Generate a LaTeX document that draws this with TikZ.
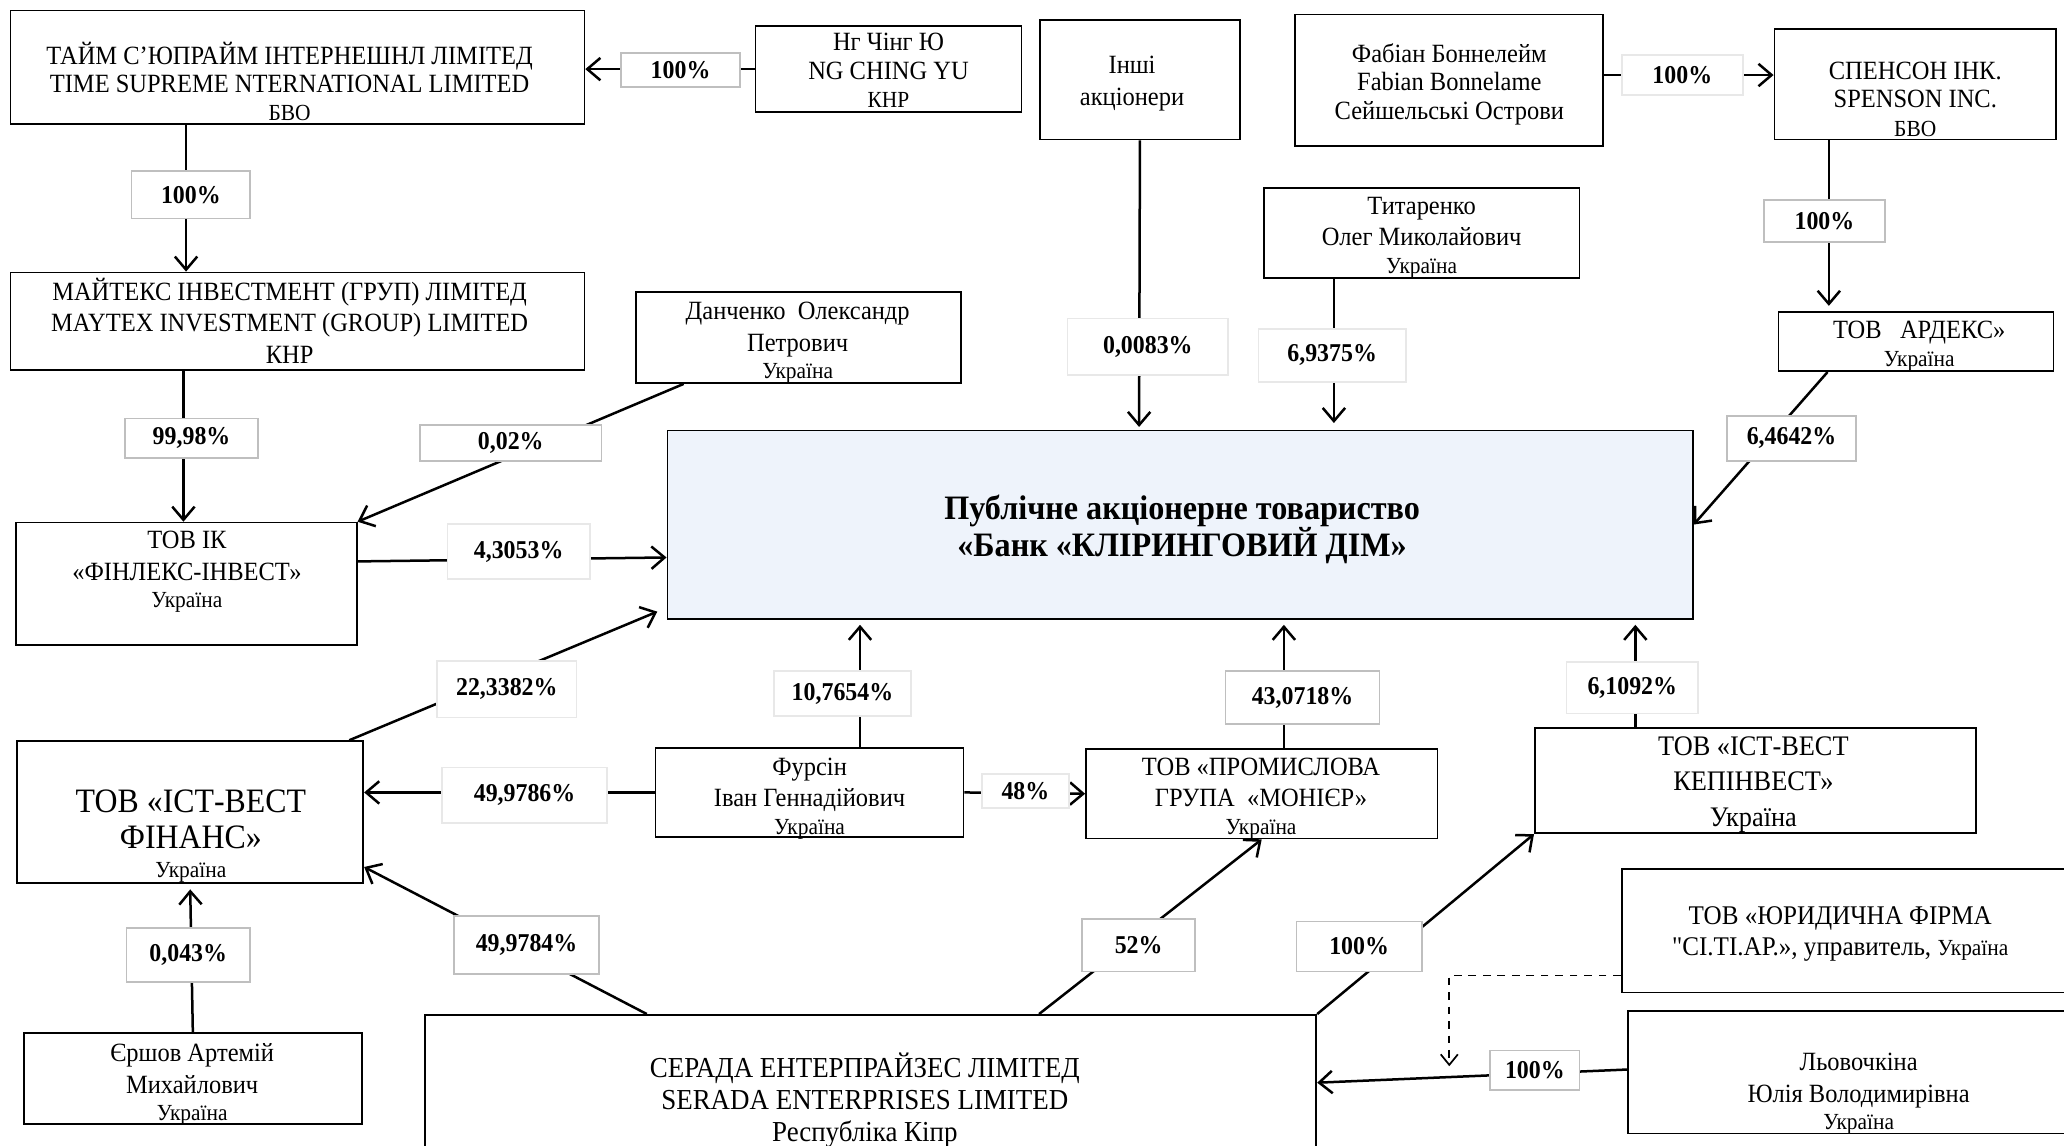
\documentclass[tikz,border=0pt]{standalone}
\usepackage{fontspec}
\setmainfont{Liberation Serif}[FakeStretch=0.93]
\newfontfamily\rawf{Liberation Serif}[FakeStretch=0.93]
\newfontfamily\bankfont{Liberation Serif}[FakeStretch=0.94]
\usetikzlibrary{arrows.meta,calc}
\definecolor{bankfill}{HTML}{EEF3FB}
\tikzset{
 ent/.style={draw=black, line width=1.3pt, inner sep=0pt, fill=white},
 txt/.style={align=center, inner sep=0pt, font=\fontsize{20}{24}\selectfont},
 txts/.style={align=center, inner sep=0pt, font=\fontsize{20}{21.5}\selectfont},
 pct/.style={draw=gray!50, fill=white, line width=1.3pt, inner sep=0pt, font=\bfseries\fontsize{19.5}{22}\selectfont},
 pctl/.style={pct, draw=gray!18},
 conn/.style={line width=1.9pt, -{Straight Barb[length=10pt,width=17pt,line width=1.9pt]}},
}
\newcommand{\sm}{\fontsize{17.5}{19}\selectfont}
\begin{document}
\begin{tikzpicture}[x=1pt,y=-1pt]
\useasboundingbox (0,0) rectangle (1568,870);
% ---------- boxes ----------
\node[ent, minimum width=436pt, minimum height=86pt] (tsi) at (226,51) {};
\node[ent, minimum width=202pt, minimum height=65pt] (ng) at (675,52.5) {};
\node[ent, minimum width=152pt, minimum height=91pt] (oth) at (866,60.5) {};
\node[ent, minimum width=234pt, minimum height=100pt] (fab) at (1101,61) {};
\node[ent, minimum width=214pt, minimum height=84pt] (spn) at (1455,64) {};
\node[ent, minimum width=436pt, minimum height=74pt] (may) at (226,244) {};
\node[ent, minimum width=247pt, minimum height=69pt] (dan) at (606.5,256.5) {};
\node[ent, minimum width=240pt, minimum height=68pt] (tit) at (1080,177) {};
\node[ent, minimum width=209pt, minimum height=45pt] (ard) at (1455.5,259.5) {};
\node[ent, fill=bankfill, minimum width=779pt, minimum height=143pt] (bank) at (896.5,398.5) {};
\node[ent, minimum width=259pt, minimum height=93pt] (fin) at (141.5,443.5) {};
\node[ent, minimum width=263pt, minimum height=108pt] (ewf) at (144.5,617) {};
\node[ent, minimum width=234pt, minimum height=68pt] (fur) at (615,602) {};
\node[ent, minimum width=267pt, minimum height=68pt] (mon) at (958.5,603) {};
\node[ent, minimum width=335pt, minimum height=80pt] (kep) at (1333.5,593) {};
\node[ent, minimum width=343pt, minimum height=94pt] (jur) at (1403.5,707) {};
\node[ent, minimum width=353pt, minimum height=93pt] (lev) at (1413.5,814.5) {};
\node[ent, minimum width=677pt, minimum height=129pt] (ser) at (661.5,835.5) {};
\node[ent, minimum width=257pt, minimum height=69pt] (ers) at (146.5,819.5) {};
% ---------- texts ----------
\node[txts] (tsiT) at (220,62) {ТАЙМ С’ЮПРАЙМ ІНТЕРНЕШНЛ ЛІМІТЕД\\TIME SUPREME NTERNATIONAL LIMITED\\{\sm БВО}};
\node[txts] (ngT) at (675,53.5) {Нг Чінг Ю\\NG CHING YU\\{\sm КНР}};
\node[txt] (othT) at (860,63.5) {Інші\\акціонери};
\node[txts] (fabT) at (1101,64) {Фабіан Боннелейм\\Fabian Bonnelame\\Сейшельські Острови};
\node[txts] (spnT) at (1455,75.5) {СПЕНСОН ІНК.\\SPENSON INC.\\{\sm БВО}};
\node[txt] (mayT) at (220,243.5) {МАЙТЕКС ІНВЕСТМЕНТ (ГРУП) ЛІМІТЕД\\MAYTEX INVESTMENT (GROUP) LIMITED\\КНР};
\node[txt] (danT) at (606,260.5) {Данченко\ \ Олександр\\Петрович\\[-3pt]{\sm Україна}};
\node[txt] (titT) at (1080,180.5) {Титаренко\\Олег Миколайович\\[-3pt]{\sm Україна}};
\node[txt] (ardT) at (1458,263) {ТОВ\ \ \ АРДЕКС»\\[-3pt]{\sm Україна}};
\node[txt, font=\bankfont\bfseries\fontsize{26}{28}\selectfont] (bankT) at (898,402.5) {Публічне акціонерне товариство\\«Банк «КЛІРИНГОВИЙ ДІМ»};
\node[txt] (finT) at (142,434.5) {ТОВ ІК\\«ФІНЛЕКС-ІНВЕСТ»\\[-3pt]{\sm Україна}};
\node[txt, font=\fontsize{26}{27}\selectfont] (ewfT) at (145,635) {ТОВ «ІСТ-ВЕСТ\\ФІНАНС»\\[-5pt]{\sm Україна}};
\node[txt] (furT) at (615,606.5) {Фурсін\\Іван Геннадійович\\[-3pt]{\sm Україна}};
\node[txt] (monT) at (958,606.5) {ТОВ «ПРОМИСЛОВА\\ГРУПА\ \ «МОНІЄР»\\[-3pt]{\sm Україна}};
\node[txt, font=\fontsize{21.5}{27}\selectfont] (kepT) at (1332,596) {ТОВ «ІСТ-ВЕСТ\\КЕПІНВЕСТ»\\Україна};
\node[txt, font=\fontsize{20.5}{24}\selectfont] (jurT) at (1398,709.5) {ТОВ «ЮРИДИЧНА ФІРМА\\{\rawf"}СІ.ТІ.АР.», управитель, {\sm Україна}};
\node[txt] (levT) at (1412,831) {Льовочкіна\\Юлія Володимирівна\\[-3pt]{\sm Україна}};
\node[txt, font=\fontsize{22}{24.5}\selectfont] (serT) at (657,836) {СЕРАДА ЕНТЕРПРАЙЗЕС ЛІМІТЕД\\SERADA ENTERPRISES LIMITED\\Республіка Кіпр};
\node[txt] (ersT) at (146,824) {Єршов Артемій\\Михайлович\\[-3pt]{\sm Україна}};
% ---------- connectors ----------
\coordinate (fabR) at ([yshift=4pt]fab.east);
\draw[conn] (ng.west) -- (ng.west -| tsi.east);
\draw[conn] (fabR) -- (fabR -| spn.west);
\draw[conn] ([xshift=134pt]tsi.south west) -- ([xshift=134pt]may.north west);
\draw[conn] ([xshift=132pt]may.south west) -- ([xshift=128pt]fin.north west);
\draw[conn] ([xshift=37pt]dan.south west) -- (fin.north east);
\draw[conn] (oth.south) -- ([xshift=359pt,yshift=2pt]bank.north west);
\draw[conn] ([xshift=54pt]tit.south west) -- ([xshift=507pt,yshift=5pt]bank.north west);
\draw[conn] ([xshift=42pt]spn.south west) -- ([xshift=39pt,yshift=4pt]ard.north west);
\draw[conn] ([xshift=38pt]ard.south west) -- (bank.east);
\draw[conn] ([yshift=17pt]fin.east) -- ([yshift=-25pt]bank.west);
\draw[conn] ([xshift=253pt]ewf.north west) -- ([xshift=-7pt,yshift=6pt]bank.south west);
\draw[conn] (fur.west) -- ([yshift=15pt]ewf.east);
\draw[conn] ([xshift=156pt]fur.north west) -- ([xshift=147pt,yshift=-4pt]bank.south west);
\draw[conn] (fur.east) -- (mon.west);
\draw[conn] ([xshift=151pt]mon.north west) -- ([xshift=469pt,yshift=-4pt]bank.south west);
\draw[conn] ([xshift=77pt]kep.north west) -- ([xshift=736pt,yshift=-4pt]bank.south west);
\draw[conn] ([xshift=169pt]ser.north west) -- ([yshift=13pt]ewf.south east);
\draw[conn] ([xshift=467pt]ser.north west) -- (mon.south);
\draw[conn] (ser.north east) -- (kep.south west);
\draw[conn] ([yshift=2pt]lev.west) -- ([yshift=13pt]ser.east);
\draw[conn] (ers.north) -- ([yshift=-4pt]ewf.south);
\coordinate (dashend) at (1101,810);
\draw[line width=1.3pt, dash pattern=on 6pt off 5pt, -{Straight Barb[length=8pt,width=13pt,line width=1.3pt]}] ([yshift=-34pt]jur.west) -| (dashend);
% ---------- percentage labels ----------
\node[pct, minimum width=90pt, minimum height=26pt] (p1) at (517,53) {100\%};
\node[pctl, minimum width=92pt, minimum height=30pt] (p2) at (1278,57) {100\%};
\node[pct, minimum width=90pt, minimum height=36pt] (p3) at (145,148) {100\%};
\node[pct, minimum width=101pt, minimum height=30pt] (p4) at (145.5,333) {99,98\%};
\node[pct, minimum width=138pt, minimum height=27pt] (p5) at (388,336.5) {0,02\%};
\node[pctl, minimum width=122pt, minimum height=43pt] (p6) at (872,263.5) {0,0083\%};
\node[pctl, minimum width=112pt, minimum height=40pt] (p7) at (1012,270) {6,9375\%};
\node[pct, minimum width=92pt, minimum height=32pt] (p8) at (1386,168) {100\%};
\node[pct, minimum width=98pt, minimum height=34pt] (p9) at (1361,333) {6,4642\%};
\node[pctl, minimum width=108pt, minimum height=42pt] (p10) at (394,419) {4,3053\%};
\node[pctl, minimum width=106pt, minimum height=43pt] (p11) at (385,523.5) {22,3382\%};
\node[pctl, minimum width=125pt, minimum height=42pt] (p12) at (398.5,604) {49,9786\%};
\node[pctl, minimum width=104pt, minimum height=34pt] (p13) at (640,527) {10,7654\%};
\node[pctl, minimum width=66pt, minimum height=26pt] (p14) at (779,601) {48\%};
\node[pct, minimum width=117pt, minimum height=40pt] (p15) at (989.5,530) {43,0718\%};
\node[pctl, minimum width=100pt, minimum height=39pt] (p16) at (1240,522.5) {6,1092\%};
\node[pct, minimum width=68pt, minimum height=30pt] (p17) at (1166,813) {100\%};
\node[pct, minimum width=110pt, minimum height=44pt] (p18) at (400,718) {49,9784\%};
\node[pct, minimum width=86pt, minimum height=40pt] (p19) at (865,718) {52\%};
\node[pct, minimum width=95pt, minimum height=38pt] (p20) at (1032.5,719) {100\%};
\node[pct, minimum width=94pt, minimum height=41pt] (p21) at (143,725.5) {0,043\%};
\end{tikzpicture}
\end{document}
